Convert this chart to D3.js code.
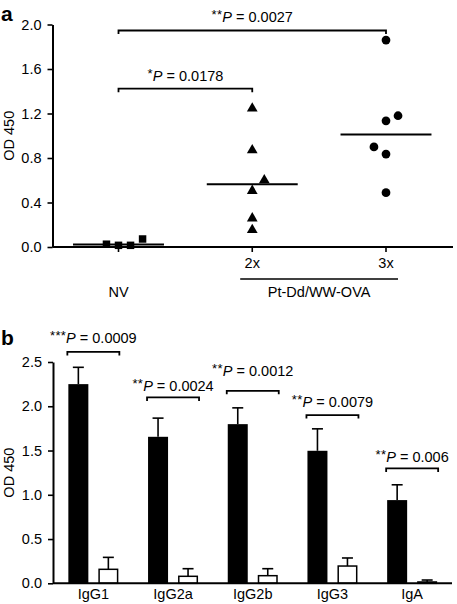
<!DOCTYPE html>
<html>
<head>
<meta charset="utf-8">
<script src="https://cdn.jsdelivr.net/npm/d3@7"></script>
<style>
  html, body { margin: 0; padding: 0; background: #fff; }
  svg { display: block; }
  text { font-family: "Liberation Sans", Arial, Helvetica, sans-serif; fill: #000; }
</style>
</head>
<body>
<svg id="chart" width="457" height="604"></svg>
<script>
// ---------------- Panel a data ----------------
const groupsA = ["NV", "2x", "3x"];
const yTicksA = [0, 0.4, 0.8, 1.2, 1.6, 2.0];
// x given in category units (0 = NV, 1 = 2x, 2 = 3x), small offsets = jitter as drawn
const nvX = [-0.09, 0, 0.09, 0.18];
const nvY = [0.025, 0.015, 0.015, 0.072];
const twoX = [1, 1, 1.09, 1, 1, 1];
const twoY = [1.245, 0.87, 0.60, 0.505, 0.258, 0.153];
const threeX = [2, 2.09, 2, 1.91, 2, 2];
const threeY = [1.86, 1.18, 1.134, 0.90, 0.835, 0.488];
const meansA = [0.022, 0.563, 1.012];
const groupLabelA = "Pt-Dd/WW-OVA";
// significance brackets for panel a
const bracketA_from = [0, 0];
const bracketA_to = [1, 2];
const bracketA_level = [1.423, 1.946];
const bracketA_textLevel = [1.49, 2.02];
const bracketA_stars = ["*", "**"];
const bracketA_p = ["0.0178", "0.0027"];

// ---------------- Panel b data ----------------
const isotypes = ["IgG1", "IgG2a", "IgG2b", "IgG3", "IgA"];
const yTicksB = [0, 0.5, 1.0, 1.5, 2.0, 2.5];
const immunized = [2.25, 1.655, 1.798, 1.497, 0.94];
const immunizedErr = [0.19, 0.211, 0.184, 0.248, 0.173];
const control = [0.158, 0.079, 0.086, 0.195, 0.015];
const controlErr = [0.135, 0.086, 0.079, 0.091, 0.022];
const bracketB_level = [2.614, 2.10, 2.174, 1.90, 1.298];
const bracketB_textLevel = [2.716, 2.17, 2.34, 1.993, 1.372];
const bracketB_stars = ["***", "**", "**", "**", "**"];
const bracketB_p = ["0.0009", "0.0024", "0.0012", "0.0079", "0.006"];

const yTitle = "OD 450";

// ---------------- drawing ----------------
const svg = d3.select("#chart");
const FS = 14.5;

function pText(g, x, y, stars, p) {
  const t = g.append("text").attr("x", x).attr("y", y)
    .attr("text-anchor", "middle").attr("font-size", FS);
  t.append("tspan").attr("font-size", 13).attr("dy", -3).attr("letter-spacing", 0.3).text(stars);
  t.append("tspan").attr("dy", 3).attr("font-style", "italic").text("P");
  t.append("tspan").text(" = " + p);
}

function styleAxis(g) {
  g.selectAll("path.domain").attr("stroke", "#000").attr("stroke-width", 2);
  g.selectAll(".tick line").attr("stroke", "#000").attr("stroke-width", 1.6);
  g.selectAll(".tick text").attr("font-size", 14.5).attr("font-family", "Liberation Sans, Arial, sans-serif");
}

// ===== Panel a =====
const ax0 = 52.5, ax1 = 453;
const yA = d3.scaleLinear().domain([0, 2.0]).range([247, 24.5]);
const xA = d3.scaleLinear().domain([0, 2]).range([118.5, 386]);

const gA = svg.append("g");
gA.append("text").attr("x", 1).attr("y", 20.5).attr("font-size", 21).attr("font-weight", "bold").text("a");

const yAxisA = gA.append("g").attr("transform", `translate(${ax0},0)`)
  .call(d3.axisLeft(yA).tickValues(yTicksA).tickFormat(d3.format(".1f")).tickSize(5).tickPadding(6).tickSizeOuter(0));
styleAxis(yAxisA);

// x axis line + ticks
gA.append("line").attr("x1", ax0).attr("x2", ax1).attr("y1", yA(0)).attr("y2", yA(0))
  .attr("stroke", "#000").attr("stroke-width", 2);
groupsA.forEach((g, i) => {
  gA.append("line").attr("x1", xA(i)).attr("x2", xA(i)).attr("y1", yA(0)).attr("y2", yA(0) + 5)
    .attr("stroke", "#000").attr("stroke-width", 1.6);
});
// labels
gA.append("text").attr("x", xA(0)).attr("y", 296.5).attr("text-anchor", "middle").attr("font-size", FS).text(groupsA[0]);
gA.append("text").attr("x", xA(1)).attr("y", 267.5).attr("text-anchor", "middle").attr("font-size", FS).text(groupsA[1]);
gA.append("text").attr("x", xA(2)).attr("y", 267.5).attr("text-anchor", "middle").attr("font-size", FS).text(groupsA[2]);
gA.append("line").attr("x1", xA(0.91)).attr("x2", xA(2.09)).attr("y1", 279).attr("y2", 279)
  .attr("stroke", "#000").attr("stroke-width", 1.4);
gA.append("text").attr("x", xA(1.5)).attr("y", 296.5).attr("text-anchor", "middle").attr("font-size", FS).text(groupLabelA);

// y title
gA.append("text").attr("transform", `translate(13.5,${(yA(0) + yA(2)) / 2}) rotate(-90)`)
  .attr("text-anchor", "middle").attr("font-size", FS).text(yTitle);

// mean lines
meansA.forEach((m, i) => {
  gA.append("line").attr("x1", xA(i - 0.34)).attr("x2", xA(i + 0.34))
    .attr("y1", yA(m)).attr("y2", yA(m)).attr("stroke", "#000").attr("stroke-width", 2);
});

// points
const sq = d3.symbol().type(d3.symbolSquare).size(56);
const tri = d3.symbol().type(d3.symbolTriangle).size(50);
const cir = d3.symbol().type(d3.symbolCircle).size(60);
nvX.forEach((x, i) => gA.append("path").attr("d", sq).attr("transform", `translate(${xA(x)},${yA(nvY[i])})`).attr("fill", "#000"));
twoX.forEach((x, i) => gA.append("path").attr("d", tri).attr("transform", `translate(${xA(x)},${yA(twoY[i])})`).attr("fill", "#000"));
threeX.forEach((x, i) => gA.append("path").attr("d", cir).attr("transform", `translate(${xA(x)},${yA(threeY[i])})`).attr("fill", "#000"));

// brackets
bracketA_level.forEach((lv, i) => {
  const x1 = xA(bracketA_from[i]), x2 = xA(bracketA_to[i]), y = yA(lv);
  gA.append("path").attr("d", `M${x1},${y + 3.5}V${y}H${x2}V${y + 3.5}`)
    .attr("fill", "none").attr("stroke", "#000").attr("stroke-width", 1.8);
  pText(gA, (x1 + x2) / 2, yA(bracketA_textLevel[i]), bracketA_stars[i], bracketA_p[i]);
});

// ===== Panel b =====
const bx0 = 53, bx1 = 452;
const yB = d3.scaleLinear().domain([0, 2.5]).range([583.3, 362]);
const xB = d3.scaleBand().domain(isotypes).range([53.5, 452]).paddingInner(0).paddingOuter(0);
const barW = 20, off = 15;

const gB = svg.append("g");
gB.append("text").attr("x", 1).attr("y", 345).attr("font-size", 21).attr("font-weight", "bold").text("b");

const yAxisB = gB.append("g").attr("transform", `translate(${bx0},0)`)
  .call(d3.axisLeft(yB).tickValues(yTicksB).tickFormat(d3.format(".1f")).tickSize(5).tickPadding(6).tickSizeOuter(0));
styleAxis(yAxisB);

gB.append("text").attr("transform", `translate(13.5,${(yB(0) + yB(2.5)) / 2}) rotate(-90)`)
  .attr("text-anchor", "middle").attr("font-size", FS).text(yTitle);

isotypes.forEach((iso, i) => {
  const c = xB(iso) + xB.bandwidth() / 2;
  // error bars (up only)
  [[c - off, immunized[i], immunizedErr[i]], [c + off, control[i], controlErr[i]]].forEach(([cx, v, e]) => {
    gB.append("line").attr("x1", cx).attr("x2", cx).attr("y1", yB(v)).attr("y2", yB(v + e))
      .attr("stroke", "#000").attr("stroke-width", 1.6);
    gB.append("line").attr("x1", cx - 5.5).attr("x2", cx + 5.5).attr("y1", yB(v + e)).attr("y2", yB(v + e))
      .attr("stroke", "#000").attr("stroke-width", 1.6);
  });
  gB.append("rect").attr("x", c - off - barW / 2).attr("y", yB(immunized[i]))
    .attr("width", barW).attr("height", yB(0) - yB(immunized[i])).attr("fill", "#000");
  gB.append("rect").attr("x", c + off - barW / 2 + 0.75).attr("y", yB(control[i]))
    .attr("width", barW - 1.5).attr("height", Math.max(0, yB(0) - yB(control[i])))
    .attr("fill", "#fff").attr("stroke", "#000").attr("stroke-width", 1.5);
  // label
  gB.append("text").attr("x", c).attr("y", 599).attr("text-anchor", "middle").attr("font-size", FS).text(iso);
  // bracket
  const y = yB(bracketB_level[i]);
  gB.append("path").attr("d", `M${c - 26},${y + 3.5}V${y}H${c + 26}V${y + 3.5}`)
    .attr("fill", "none").attr("stroke", "#000").attr("stroke-width", 1.8);
  pText(gB, c, yB(bracketB_textLevel[i]), bracketB_stars[i], bracketB_p[i]);
});

gB.append("line").attr("x1", bx0).attr("x2", bx1).attr("y1", yB(0)).attr("y2", yB(0))
  .attr("stroke", "#000").attr("stroke-width", 2);
</script>
</body>
</html>
